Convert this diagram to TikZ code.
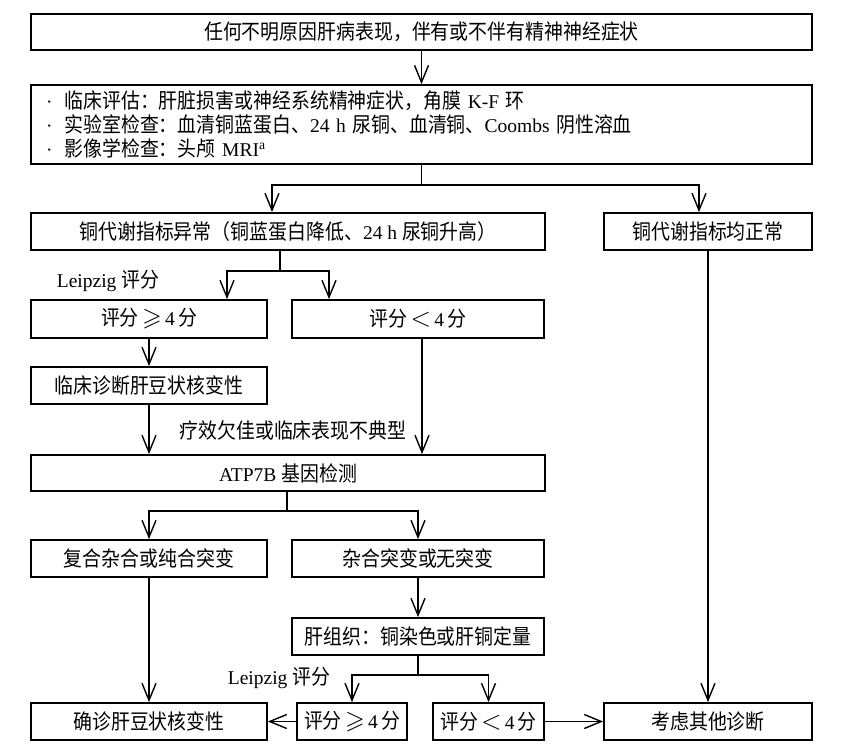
\documentclass[tikz,border=0pt]{standalone}
\usepackage{fontspec}
\usepackage{amssymb}
\setmainfont{Liberation Serif}
\newfontfamily\cjk[FakeStretch=0.9]{Noto Sans CJK SC}
\newcommand{\zh}[1]{{\cjk\fontsize{21}{24}\selectfont #1}}
\newcommand{\geqs}{\scalebox{1.3}{$\geqslant$}}
\newcommand{\lts}{\scalebox{1.3}{$<$}}
\usetikzlibrary{arrows.meta,calc}
\begin{document}
\begin{tikzpicture}[x=1pt,y=-1pt,
  box/.style={draw,line width=1.8pt,inner sep=0pt,minimum height=37pt,font=\fontsize{19.5}{24}\selectfont},
  conn/.style={line width=1.4pt},
  arr/.style={conn,-{Straight Barb[length=17pt,width=14pt,line width=1.4pt]}},
  lbl/.style={font=\fontsize{19.5}{24}\selectfont}]
\fill[white] (0,0) rectangle (865,746);
\useasboundingbox (0,0) rectangle (865,746);

% boxes
\node[box,minimum width=781pt,minimum height=36pt] (top) at (421.5,32) {\zh{任何不明原因肝病表现，伴有或不伴有精神神经症状}};
\node[box,minimum width=781pt,minimum height=79pt,text width=751pt,align=left,font=\fontsize{19.5}{24}\selectfont] (eval) at (421.5,124.5)
 {·\hspace{12pt}\zh{临床评估：肝脏损害或神经系统精神症状，角膜} K-F \zh{环}\\
  ·\hspace{12pt}\zh{实验室检查：血清铜蓝蛋白、}24 h \zh{尿铜、血清铜、}Coombs \zh{阴性溶血}\\
  ·\hspace{12pt}\zh{影像学检查：头颅} MRI\textsuperscript{a}};
\node[box,minimum width=514pt] (abn) at (288,231.5) {\zh{铜代谢指标异常（铜蓝蛋白降低、}24 h \zh{尿铜升高）}};
\node[box,minimum width=208pt] (norm) at (708,231.5) {\zh{铜代谢指标均正常}};
\node[box,minimum width=236pt,minimum height=38pt] (ge1) at (149,319) {\zh{评分}\,\geqs\,4\,\zh{分}};
\node[box,minimum width=252pt,minimum height=38pt] (lt1) at (418,319) {\zh{评分}\,\lts\,4\,\zh{分}};
\node[box,minimum width=236pt] (clin) at (149,385.5) {\zh{临床诊断肝豆状核变性}};
\node[box,minimum width=514pt,minimum height=36pt] (atp) at (288,473) {ATP7B \zh{基因检测}};
\node[box,minimum width=236pt] (comp) at (149,558.5) {\zh{复合杂合或纯合突变}};
\node[box,minimum width=252pt] (het) at (418,558.5) {\zh{杂合突变或无突变}};
\node[box,minimum width=252pt] (liver) at (418,636.5) {\zh{肝组织：铜染色或肝铜定量}};
\node[box,minimum width=236pt] (conf) at (149,721.5) {\zh{确诊肝豆状核变性}};
\node[box,minimum width=110pt] (ge2) at (352,721.5) {\zh{评分}\,\geqs\,4\,\zh{分}};
\node[box,minimum width=111pt] (lt2) at (488.5,721.5) {\zh{评分}\,\lts\,4\,\zh{分}};
\node[box,minimum width=208pt] (other) at (708,721.5) {\zh{考虑其他诊断}};

% labels
\node[lbl] (lab1) at (108,281) {Leipzig \zh{评分}};
\node[lbl] (lab2) at (293,430) {\zh{疗效欠佳或临床表现不典型}};
\node[lbl] (lab3) at (279,678) {Leipzig \zh{评分}};

% connectors
\draw[arr] (top) -- (eval);
\coordinate (j1) at (421.5,185);
\draw[conn] (eval.south) -- (j1);
\draw[arr] (j1) -| ($(abn.north)+(-16,0)$);
\draw[arr] (j1) -| ($(norm.north)+(-9,0)$);

\coordinate (j2) at (280,271);
\draw[conn] (abn.south -| j2) -- (j2);
\draw[arr] (j2) -| ($(ge1.north)+(78,0)$);
\draw[arr] (j2) -| ($(lt1.north)+(-89,0)$);

\draw[arr] (ge1) -- (clin);
\draw[arr] (clin.south) -- (clin.south |- atp.north);
\draw[arr] ($(lt1.south)+(4,0)$) -- ($(lt1.south |- atp.north)+(4,0)$);

\coordinate (j3) at (287,511);
\draw[conn] (atp.south -| j3) -- (j3);
\draw[arr] (j3) -| (comp.north);
\draw[arr] (j3) -| (het.north);
\draw[arr] (het) -- (liver);

\coordinate (j4) at (418,675);
\draw[conn] (liver.south) -- (j4);
\draw[arr] (j4) -| (ge2.north);
\draw[arr] (j4) -| (lt2.north);

\draw[arr] (comp) -- (conf);
\draw[arr] (ge2) -- (conf);
\draw[arr] (lt2) -- (other);
\draw[arr] (norm) -- (other);
\end{tikzpicture}
\end{document}
